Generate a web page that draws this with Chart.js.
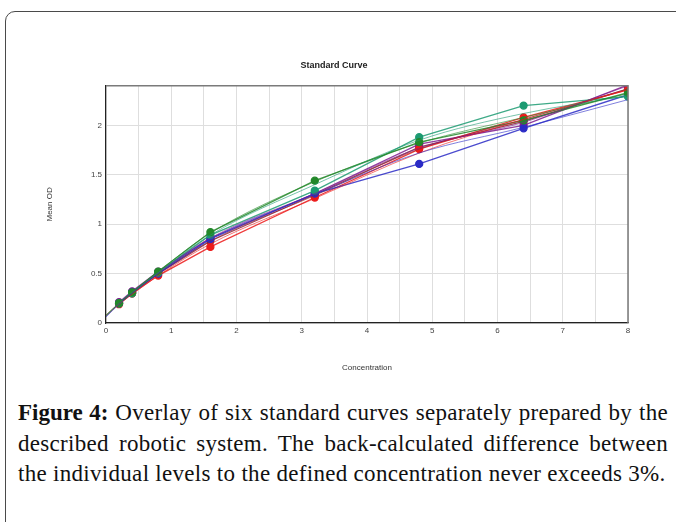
<!DOCTYPE html>
<html>
<head>
<meta charset="utf-8">
<script src="https://cdn.jsdelivr.net/npm/chart.js@4.4.0/dist/chart.umd.min.js"></script>
<style>
    body { margin: 0; width: 676px; height: 522px; background: #fff; overflow: hidden; position: relative; }
    .frame {
        position: absolute; left: 5px; top: 11px; width: 720px; height: 600px;
        border: 1.5px solid #4a4a4a; border-radius: 10px;
    }
    .chart-box { position: absolute; left: 0; top: 0; width: 676px; height: 390px; }
    .caption {
        position: absolute; left: 18px; top: 398px; width: 650px;
        font-family: "Liberation Serif", serif; font-size: 23px; line-height: 30.5px;
        letter-spacing: 0.3px; text-align: justify; color: #111;
    }
    .caption b { font-weight: bold; letter-spacing: 0; }
</style>
</head>
<body>
<div class="frame"></div>
<div class="chart-box"><canvas id="curveChart"></canvas></div>
<div class="caption"><b>Figure 4:</b> Overlay of six standard curves separately prepared by the described robotic system. The back-calculated difference between the individual levels to the defined concentration never exceeds 3%.</div>

<script>
// Concentrations of the standards
const concentrations = [0.2, 0.4, 0.8, 1.6, 3.2, 4.8, 6.4, 8.0];
// Concentrations used for the fitted curves (includes the blank)
const fitConcentrations = [0, 0.2, 0.4, 0.8, 1.6, 3.2, 4.8, 6.4, 8.0];

const seriesNames = ['Curve 1', 'Curve 2', 'Curve 3', 'Curve 4', 'Curve 5', 'Curve 6'];
const seriesColors = ['#23882a', '#1c9b72', '#2b2bc6', '#ec1a1a', '#7e1b8e', '#8e2438'];

// Measured mean OD per standard
const greenOD  = [0.20, 0.31, 0.52, 0.92, 1.44, 1.83, 2.05, 2.33];
const tealOD   = [0.20, 0.30, 0.51, 0.89, 1.34, 1.88, 2.20, 2.29];
const blueOD   = [0.20, 0.31, 0.50, 0.85, 1.31, 1.61, 1.97, 2.31];
const redOD    = [0.19, 0.30, 0.48, 0.77, 1.27, 1.76, 2.08, 2.36];
const purpleOD = [0.21, 0.32, 0.52, 0.86, 1.31, 1.81, 2.00, 2.41];
const maroonOD = [0.20, 0.30, 0.50, 0.83, 1.30, 1.78, 2.04, 2.37];

// Fitted curves
const greenFit  = [0.08, 0.20, 0.31, 0.52, 0.91, 1.43, 1.82, 2.08, 2.32];
const tealFit   = [0.07, 0.20, 0.31, 0.51, 0.89, 1.40, 1.85, 2.12, 2.30];
const blueFit   = [0.06, 0.19, 0.30, 0.50, 0.85, 1.30, 1.72, 1.98, 2.26];
const redFit    = [0.07, 0.19, 0.29, 0.48, 0.80, 1.26, 1.72, 2.06, 2.36];
const purpleFit = [0.07, 0.20, 0.31, 0.51, 0.86, 1.31, 1.77, 2.03, 2.40];
const maroonFit = [0.08, 0.20, 0.30, 0.50, 0.83, 1.29, 1.76, 2.06, 2.37];

const xTickLabels = ['0', '1', '2', '3', '4', '5', '6', '7', '8'];
const yTickLabels = ['0', '0.5', '1', '1.5', '2'];

const measured = [greenOD, tealOD, blueOD, redOD, purpleOD, maroonOD];
const fitted = [greenFit, tealFit, blueFit, redFit, purpleFit, maroonFit];

function toPoints(xs, ys) {
    return xs.map((x, i) => ({ x: x, y: ys[i] }));
}

function fade(hex, a) {
    const n = parseInt(hex.slice(1), 16);
    return `rgba(${(n >> 16) & 255}, ${(n >> 8) & 255}, ${n & 255}, ${a})`;
}

const datasets = [];
// Smooth fitted curves first (drawn underneath)
fitted.forEach((ys, i) => {
    datasets.push({
        label: seriesNames[i] + ' fit',
        data: toPoints(fitConcentrations, ys),
        borderColor: fade(seriesColors[i], 0.6),
        borderWidth: 1,
        pointRadius: 0,
        cubicInterpolationMode: 'monotone',
        fill: false
    });
});
// Measured points joined by straight segments
measured.forEach((ys, i) => {
    datasets.push({
        label: seriesNames[i],
        data: toPoints(concentrations, ys),
        borderColor: fade(seriesColors[i], 0.85),
        backgroundColor: seriesColors[i],
        pointBorderColor: seriesColors[i],
        borderWidth: 1.3,
        pointRadius: 3.5,
        tension: 0,
        fill: false
    });
});

// Frame round the plot area (top and right edges)
const plotFrame = {
    id: 'plotFrame',
    afterDraw(chart) {
        const { ctx, chartArea: a } = chart;
        ctx.save();
        ctx.strokeStyle = '#7a7a7a';
        ctx.lineWidth = 1.5;
        ctx.beginPath();
        ctx.moveTo(a.left, a.top);
        ctx.lineTo(a.right, a.top);
        ctx.lineTo(a.right, a.bottom);
        ctx.stroke();
        ctx.restore();
    }
};

const tickFont = { family: 'Liberation Sans, Arial', size: 8 };

new Chart(document.getElementById('curveChart'), {
    type: 'line',
    data: { datasets: datasets },
    plugins: [plotFrame],
    options: {
        responsive: true,
        maintainAspectRatio: false,
        animation: false,
        layout: { padding: { left: 40, right: 48, top: 0, bottom: 17 } },
        plugins: {
            legend: { display: false },
            tooltip: { enabled: false },
            title: {
                display: true,
                text: 'Standard Curve',
                color: '#222',
                font: { family: 'Liberation Sans, Arial', size: 9, weight: 'bold' },
                padding: { top: 60, bottom: 15 }
            }
        },
        scales: {
            x: {
                type: 'linear',
                min: 0,
                max: 8,
                afterFit: scale => { scale.height = 50; },
                border: { color: '#222', width: 1.2 },
                grid: { color: '#dedede', drawTicks: false },
                ticks: {
                    stepSize: 0.5,
                    padding: 3,
                    color: '#444',
                    font: tickFont,
                    maxRotation: 0,
                    autoSkip: false,
                    callback: v => xTickLabels.includes(String(v)) ? String(v) : ''
                },
                title: {
                    display: true,
                    text: 'Concentration',
                    color: '#333',
                    font: tickFont,
                    padding: { top: 0, bottom: 0 }
                }
            },
            y: {
                type: 'linear',
                min: 0,
                max: 2.4,
                afterFit: scale => { scale.width = 66; },
                border: { color: '#222', width: 1.2 },
                grid: { color: '#dedede', drawTicks: false },
                ticks: {
                    stepSize: 0.5,
                    padding: 4,
                    color: '#444',
                    font: tickFont,
                    callback: v => yTickLabels.includes(String(v)) ? String(v) : ''
                },
                title: {
                    display: true,
                    text: 'Mean OD',
                    color: '#333',
                    font: tickFont,
                    padding: { top: 5, bottom: 0 }
                }
            }
        }
    }
});
</script>
</body>
</html>
